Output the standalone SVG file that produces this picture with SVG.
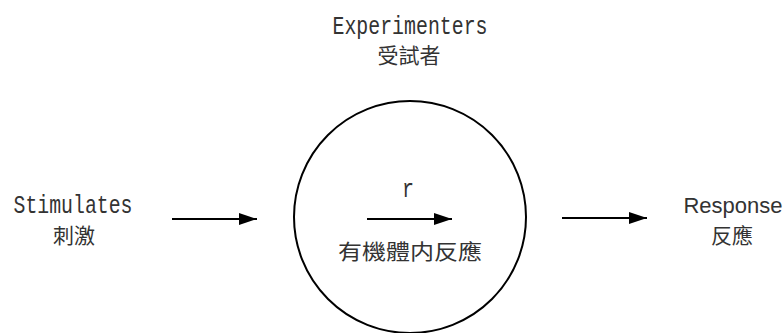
<svg xmlns="http://www.w3.org/2000/svg" width="784" height="333" viewBox="0 0 784 333">
<defs>
<marker id="ah" viewBox="0 0 18 12" refX="18" refY="6" markerWidth="18" markerHeight="12" markerUnits="userSpaceOnUse" orient="auto">
<path d="M0,0 L18,6 L0,12 Z" fill="#000"/>
</marker>
<style>
.mono{font-family:"Liberation Mono","DejaVu Sans Mono",monospace;font-size:20px;fill:#333}
.sans{font-family:"Liberation Sans",Arial,sans-serif;font-size:22px;fill:#333}
.cjk{font-family:"Noto Sans CJK TC","Noto Sans CJK SC",sans-serif;font-size:21px;fill:#333}
.edge{stroke:#000;stroke-width:2;fill:none;marker-end:url(#ah)}
</style>
</defs>
<rect width="784" height="333" fill="#fff"/>
<g id="experimenters">
<text class="mono" transform="translate(410,34) scale(1,1.25)" text-anchor="middle" textLength="155" lengthAdjust="spacingAndGlyphs">Experimenters</text>
<text class="cjk" x="409" y="63" text-anchor="middle">受試者</text>
</g>
<g id="stimulates">
<text class="mono" transform="translate(73,213) scale(1,1.25)" text-anchor="middle" textLength="119" lengthAdjust="spacingAndGlyphs">Stimulates</text>
<text class="cjk" x="74" y="243" text-anchor="middle">刺激</text>
</g>
<g id="organism">
<circle cx="410" cy="217" r="116" fill="none" stroke="#000" stroke-width="2"/>
<text class="mono" transform="translate(408,197) scale(1,1.25)" text-anchor="middle">r</text>
<text class="cjk" x="410" y="259" text-anchor="middle" textLength="144" lengthAdjust="spacingAndGlyphs">有機體内反應</text>
</g>
<g id="response">
<text class="sans" x="733" y="213" text-anchor="middle">Response</text>
<text class="cjk" x="732" y="243" text-anchor="middle">反應</text>
</g>
<g id="connectors">
<line class="edge" x1="172" y1="219" x2="257" y2="219"/>
<line class="edge" x1="367" y1="219" x2="452" y2="219"/>
<line class="edge" x1="562" y1="218" x2="647" y2="218"/>
</g>
</svg>
